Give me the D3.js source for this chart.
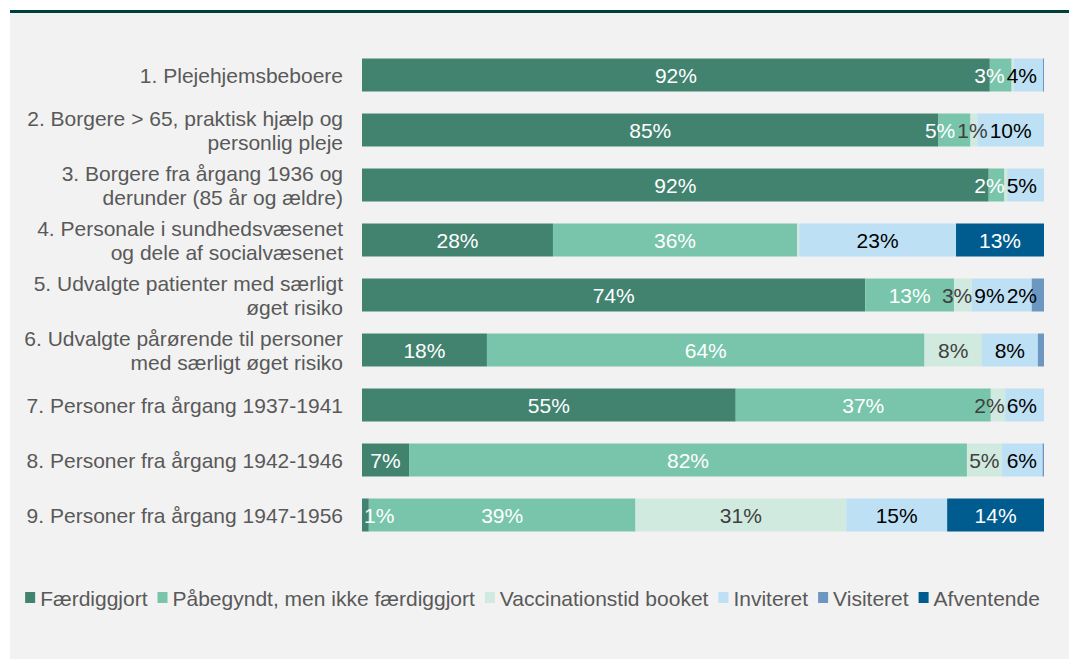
<!DOCTYPE html>
<html>
<head>
<meta charset="utf-8">
<script src="https://cdn.jsdelivr.net/npm/d3@7"></script>
<style>
  body { margin: 0; background: #fff; }
  svg text { font-family: "Liberation Sans", Arial, sans-serif; }
</style>
</head>
<body>
<div class="chart"></div>
<script>
// rows (top to bottom), label lines
var categories = [
  ["1. Plejehjemsbeboere"],
  ["2. Borgere > 65, praktisk hjælp og", "personlig pleje"],
  ["3. Borgere fra årgang 1936 og", "derunder (85 år og ældre)"],
  ["4. Personale i sundhedsvæsenet", "og dele af socialvæsenet"],
  ["5. Udvalgte patienter med særligt", "øget risiko"],
  ["6. Udvalgte pårørende til personer", "med særligt øget risiko"],
  ["7. Personer fra årgang 1937-1941"],
  ["8. Personer fra årgang 1942-1946"],
  ["9. Personer fra årgang 1947-1956"]
];

var seriesNames = ["Færdiggjort", "Påbegyndt, men ikke færdiggjort", "Vaccinationstid booket",
                   "Inviteret", "Visiteret", "Afventende"];
var seriesColors = ["#41836f", "#78c5ab", "#d1eadf", "#bee0f5", "#6c97c1", "#005b8e"];
var labelColors = ["#ffffff", "#ffffff", "#404040", "#000000", "#000000", "#ffffff"];

// percent per row
var faerdiggjort = [92.1, 84.7, 91.8, 28.0, 73.8, 18.3, 54.8, 6.9, 1.0];
var paabegyndt   = [3.2, 4.7, 2.3, 35.8, 13.0, 64.1, 37.4, 81.8, 39.1];
var booket       = [0.3, 1.0, 0.4, 0.3, 2.6, 8.4, 2.1, 5.1, 30.9];
var inviteret    = [4.3, 9.8, 5.4, 23.0, 8.8, 8.2, 5.7, 6.0, 14.8];
var visiteret    = [0.15, 0, 0, 0, 1.8, 0.9, 0, 0.2, 0];
var afventende   = [0, 0, 0, 12.9, 0, 0, 0, 0, 14.2];

var values = [faerdiggjort, paabegyndt, booket, inviteret, visiteret, afventende];

var W = 1069, H = 659;
var svg = d3.select(".chart").append("svg").attr("width", W).attr("height", H);

// panel
svg.append("rect").attr("x", 10).attr("y", 10).attr("width", W - 10).attr("height", H - 10).attr("fill", "#f2f2f2");
svg.append("rect").attr("x", 10).attr("y", 10).attr("width", W - 10).attr("height", 3).attr("fill", "#00403a");

var x = d3.scaleLinear().domain([0, 100]).range([362, 1044]);
var y = d3.scaleBand().domain(d3.range(categories.length)).range([47.5, 542.5])
  .paddingInner(0.4).paddingOuter(0.2);

// stacked rows normalised to 100
var rows = categories.map(function(c, i) {
  var total = d3.sum(values, function(s) { return s[i]; });
  var acc = 0;
  return values.map(function(s, k) {
    var v = s[i] / total * 100;
    var seg = { row: i, k: k, v: s[i], x0: acc, x1: acc + v };
    acc += v;
    return seg;
  });
});

var g = svg.append("g");
rows.forEach(function(segs, i) {
  g.selectAll(null).data(segs.filter(function(d) { return d.v > 0; }))
    .enter().append("rect")
      .attr("x", function(d) { return x(d.x0); })
      .attr("y", y(i))
      .attr("width", function(d) { return x(d.x1) - x(d.x0); })
      .attr("height", y.bandwidth())
      .attr("fill", function(d) { return seriesColors[d.k]; });

  var shown = segs.filter(function(d) { return d.v >= 1; });
  var labels = g.selectAll(null).data(shown).enter().append("text")
    .attr("y", y(i) + y.bandwidth() / 2)
    .attr("dy", "0.36em")
    .attr("text-anchor", "middle")
    .attr("font-size", "21px")
    .attr("fill", function(d) { return labelColors[d.k]; })
    .text(function(d) { return Math.round(d.v) + "%"; });

  // keep labels inside the bar and nudge overlapping ones (like excel does)
  var gap = 2;
  var items = [];
  labels.each(function(d) {
    var w = this.getComputedTextLength();
    items.push({ el: this, c: (x(d.x0) + x(d.x1)) / 2, w: w });
  });
  var lo = x(0) + 2, hi = x(100) - 7;
  items.forEach(function(it) {
    if (it.c + it.w / 2 > hi) it.c = hi - it.w / 2;
    if (it.c - it.w / 2 < lo) it.c = lo + it.w / 2;
  });
  for (var j = items.length - 2; j >= 0; j--) {
    var right = items[j].c + items[j].w / 2 + gap, left = items[j + 1].c - items[j + 1].w / 2;
    if (right > left) items[j].c -= (right - left);
  }
  for (var j2 = 1; j2 < items.length; j2++) {
    var r2 = items[j2 - 1].c + items[j2 - 1].w / 2 + gap, l2 = items[j2].c - items[j2].w / 2;
    if (r2 > l2) items[j2].c += (r2 - l2);
  }
  items.forEach(function(it) { d3.select(it.el).attr("x", it.c); });
});

// category labels
var yl = svg.append("g");
categories.forEach(function(lines, i) {
  var cy = y(i) + y.bandwidth() / 2;
  var lh = 24;
  var t = yl.append("text")
    .attr("text-anchor", "end")
    .attr("font-size", "21px")
    .attr("fill", "#595959");
  lines.forEach(function(line, n) {
    t.append("tspan")
      .attr("x", 343)
      .attr("y", cy + (n - (lines.length - 1) / 2) * lh)
      .attr("dy", "0.36em")
      .text(line);
  });
});

// legend
var leg = svg.append("g");
var lx = 0;
seriesNames.forEach(function(name, k) {
  var it = leg.append("g").attr("transform", "translate(" + lx + ",0)");
  it.append("rect").attr("x", 0).attr("y", 592).attr("width", 10).attr("height", 11)
    .attr("fill", seriesColors[k]);
  var t = it.append("text").attr("x", 15).attr("y", 598).attr("dy", "0.36em")
    .attr("font-size", "21px").attr("fill", "#595959").text(name);
  lx += 15 + t.node().getComputedTextLength() + 10;
});
var legW = lx - 10;
leg.attr("transform", "translate(" + (532.5 - legW / 2) + ",0)");
</script>
</body>
</html>
